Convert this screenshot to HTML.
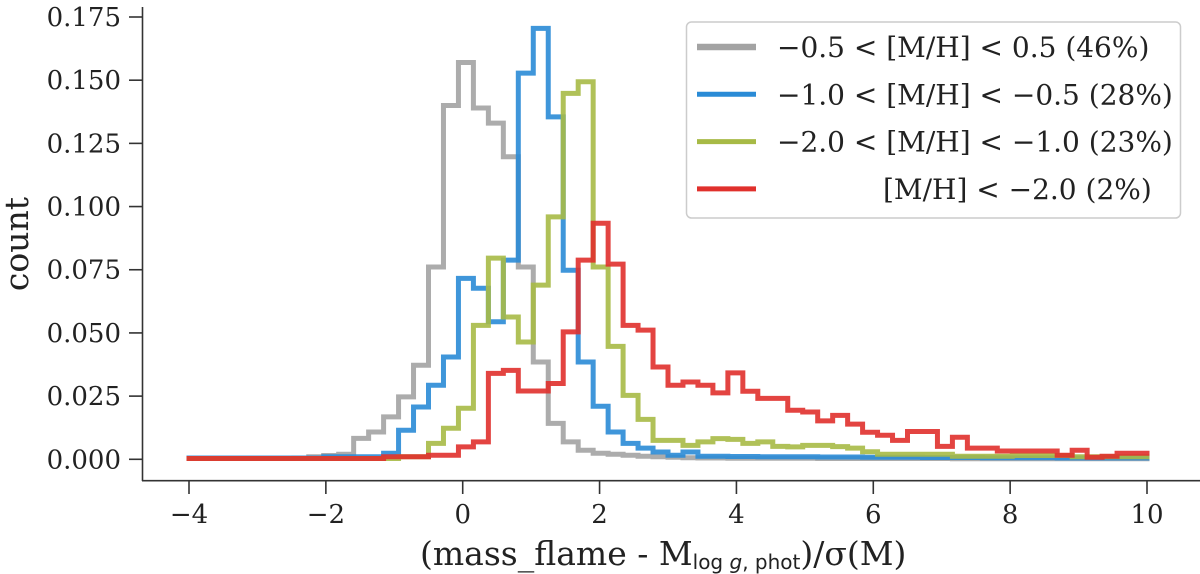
<!DOCTYPE html>
<html><head><meta charset="utf-8"><style>
html,body{margin:0;padding:0;background:#fff;}
svg{display:block;font-family:"DejaVu Serif","Liberation Serif",serif;}
</style></head><body>
<svg id="chart" width="1200" height="574" viewBox="0 0 1200 574" xmlns="http://www.w3.org/2000/svg">
<g id="axes"></g>
<g id="series"></g>
<g id="legend">
  <rect x="686.5" y="22" width="494" height="196" rx="5" fill="#fff" fill-opacity="0.8" stroke="#cccccc" stroke-width="1.5"/>
</g>
<text x="0" y="0" transform="translate(28,244) rotate(-90)" text-anchor="middle" font-size="33" fill="#222">count</text>
<text x="420" y="565" font-size="33" fill="#222">(mass_flame - M<tspan font-family="DejaVu Sans, sans-serif" font-size="20" dy="4">log<tspan font-style="italic"> g</tspan>, phot</tspan><tspan dy="-4">)/σ(M)</tspan></text>
</svg>
<script>
const xTicks = [-4,-2,0,2,4,6,8,10];
const yTicks = [0,0.025,0.05,0.075,0.1,0.125,0.15,0.175];
const yTickLabels = ["0.000","0.025","0.050","0.075","0.100","0.125","0.150","0.175"];
const binStart = -4, binEnd = 10, nBins = 64;
const seriesNames = ["−0.5 < [M/H] < 0.5 (46%)","−1.0 < [M/H] < −0.5 (28%)","−2.0 < [M/H] < −1.0 (23%)","[M/H] < −2.0 (2%)"];
const seriesColors = ["#a3a3a3","#2a8bd6","#a7ba46","#e0302c"];
const grayVals = [0.0003,0.0003,0.0003,0.0003,0.0003,0.0003,0.0003,0.0005,0.001,0.0015,0.002,
 0.0083,0.0108,0.0168,0.0247,0.0372,0.0761,0.140,0.157,0.139,0.133,0.1197,0.0761,0.0385,0.0142,0.0069,0.0036,0.0024,
 0.002,0.0016,0.0012,0.001,0.0008,0.0006,0.0005,0.0005,0.0004,0.0004,
 0.0004,0.0004,0.0004,0.0004,0.0003,0.0003,0.0003,0.0003,0.0003,0.0003,0.0003,0.0003,0.0003,0.0002,0.0002,0.0002,0.0002,0.0002,0.0002,0.0002,0.0002,0.0002,0.0002,0.0002,0.0002,0.0002];
const blueVals = [0.0005,0.0005,0.0005,0.0005,0.0005,0.0005,0.0005,0.0005,0.0005,0.001,0.001,0.001,0.001,
 0.0024,0.0115,0.0207,0.0293,0.0405,0.0716,0.0677,0.0544,0.0788,0.1528,0.1705,0.1355,0.0748,0.0385,0.021,0.0108,0.0063,0.0044,0.0029,0.0016,0.0029,0.0012,
 0.0012,0.0011,0.0011,0.001,0.001,0.001,0.001,0.0009,0.0009,0.0009,0.0008,0.0008,0.0008,0.0008,0.0007,0.0007,0.0007,0.0007,0.0006,0.0006,0.0006,0.0006,0.0006,0.0005,0.0005,0.0005,0.0005,0.0005,0.0005];
const greenVals = [0.0003,0.0003,0.0003,0.0003,0.0003,0.0003,0.0003,0.0003,0.0003,0.0003,0.0003,0.0003,0.0003,0.0003,0.001,0.001,
 0.0063,0.0123,0.0202,0.053,0.0796,0.0563,0.0464,0.0689,0.0959,0.1448,0.1494,0.0761,0.0447,0.0253,0.0158,0.0075,0.0075,0.0055,0.0069,0.0082,0.0079,0.0063,0.0069,0.0051,
 0.0049,0.0055,0.0055,0.005,0.0044,0.003,0.002,0.002,0.002,0.002,0.002,0.0012,0.0012,0.0012,0.0012,0.0015,0.0015,0.0015,0.0015,0.001,0.001,0.001,0.001,0.001];
const redVals = [0.0003,0.0003,0.0003,0.0003,0.0003,0.0003,0.0003,0.0003,0.0003,0.0003,0.0003,0.0003,0.0003,0.001,0.001,0.001,
 0.0016,0.0016,0.0049,0.0069,0.034,0.0352,0.027,0.027,0.030,0.0504,0.0788,0.0934,0.0772,0.053,0.0511,0.0365,0.0293,0.0306,0.0293,0.0263,0.0342,0.0269,0.0241,0.0241,
 0.0194,0.0187,0.0152,0.0174,0.0139,0.0107,0.0095,0.0075,0.011,0.011,0.0051,0.0087,0.0044,0.0044,0.0033,0.0033,0.0033,0.0033,0.0016,0.0036,0.0008,0.0012,0.0024,0.0024];

const NS = "http://www.w3.org/2000/svg";
const X0 = 189, X1 = 1147, Y0 = 459.3, Y1 = 17;
function xs(v){ return X0 + (v - (-4)) / 14 * (X1 - X0); }
function ys(v){ return Y0 - v / 0.175 * (Y0 - Y1); }
function mk(tag, attrs, parent){ const e = document.createElementNS(NS, tag); for (const k in attrs) e.setAttribute(k, attrs[k]); parent.appendChild(e); return e; }

const axes = document.getElementById('axes');
let sp = mk('line', {x1:142.5,y1:7,x2:142.5,y2:481,stroke:'#333','stroke-width':1.6}, axes);


sp = mk('line', {x1:142,y1:480.7,x2:1200,y2:480.7,stroke:'#333','stroke-width':1.6}, axes);


yTicks.forEach((t, i) => {
  const y = ys(t);
  const tk = mk('line', {x1:129,y1:y,x2:142.5,y2:y,stroke:'#333','stroke-width':1.6}, axes);
  
  
  const tx = mk('text', {x:121,y:y+9,'text-anchor':'end','font-size':26,fill:'#222'}, axes);
  tx.textContent = yTickLabels[i];
  
  
});
xTicks.forEach(t => {
  const x = xs(t);
  const tk = mk('line', {x1:x,y1:480.7,x2:x,y2:494,stroke:'#333','stroke-width':1.6}, axes);
  
  
  const tx = mk('text', {x:x,y:523,'text-anchor':'middle','font-size':26,fill:'#222'}, axes);
  tx.textContent = t < 0 ? '−' + Math.abs(t) : String(t);
  
  
});

const allVals = [grayVals, blueVals, greenVals, redVals];
const seriesKeys = ['gray','blue','green','red'];
const series = document.getElementById('series');
const bw = (binEnd - binStart) / nBins;
allVals.forEach((vals, si) => {
  let d = '';
  vals.forEach((v, i) => {
    const xa = xs(binStart + i * bw), xb = xs(binStart + (i + 1) * bw), y = ys(v);
    d += (i === 0 ? 'M' : 'L') + xa.toFixed(2) + ',' + y.toFixed(2) + 'L' + xb.toFixed(2) + ',' + y.toFixed(2);
  });
  const p = mk('path', {d:d,fill:'none',stroke:seriesColors[si],'stroke-width':5,'stroke-opacity':0.9,'stroke-linejoin':'miter','stroke-linecap':'square'}, series);
  
  
});

const legend = document.getElementById('legend');
const legendX = [777, 777, 777, 883];
seriesNames.forEach((n, i) => {
  const y = 47 + i * 47.3;
  const ln = mk('line', {x1:697,y1:y,x2:756,y2:y,stroke:seriesColors[i],'stroke-width':i===0?6.5:5}, legend);
  
  
  const tx = mk('text', {x:legendX[i],y:y+10,'font-size':28,fill:'#222'}, legend);
  tx.textContent = n;
  
  
});
</script>
</body></html>
